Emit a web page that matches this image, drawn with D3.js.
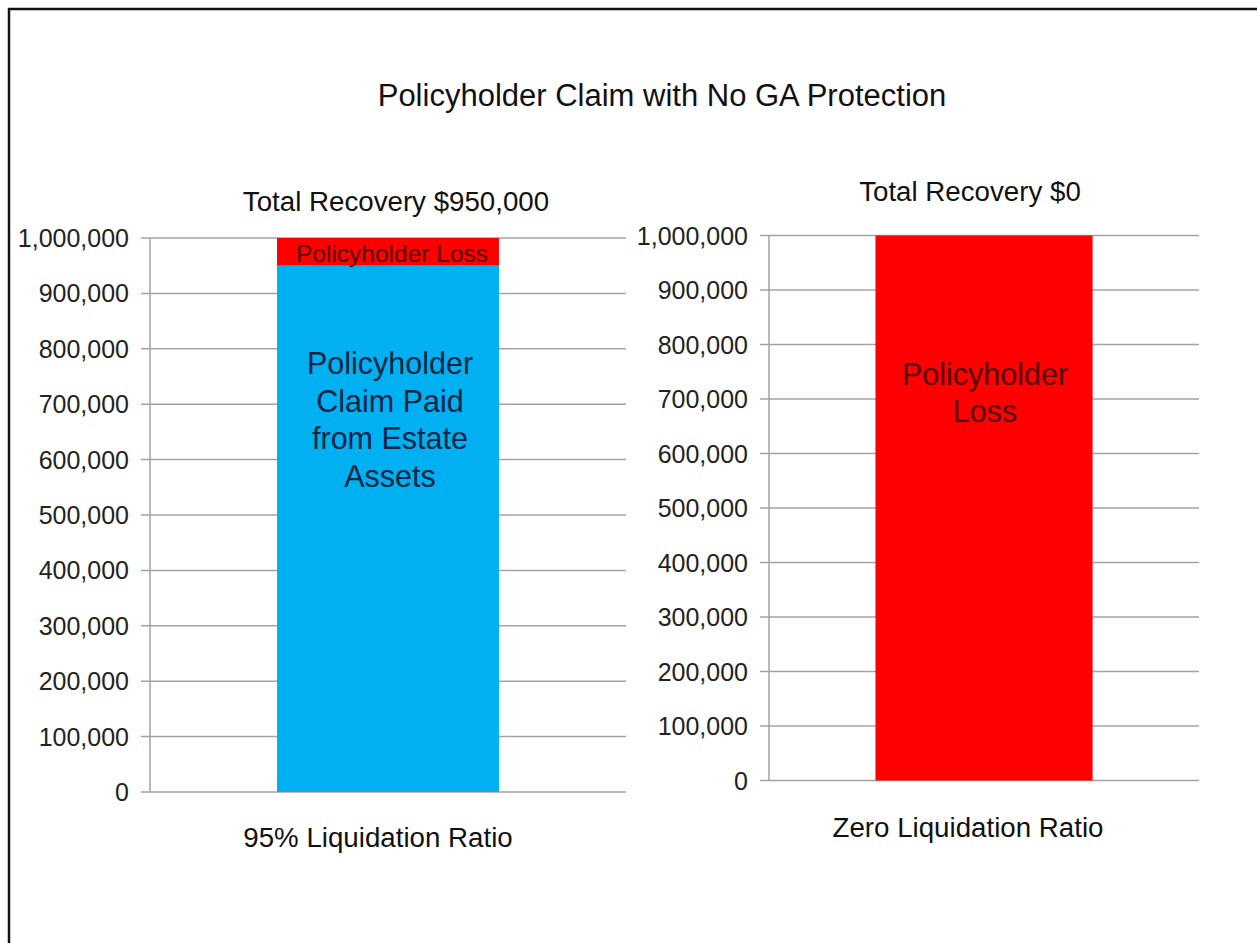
<!DOCTYPE html>
<html>
<head>
<meta charset="utf-8">
<script src="https://cdn.jsdelivr.net/npm/d3@7"></script>
<style>
  html, body { margin: 0; padding: 0; background: #fff; }
  svg { display: block; font-family: "Liberation Sans", Arial, sans-serif; }
</style>
</head>
<body>
<script>
// ---- data ----
const chartTitle = "Policyholder Claim with No GA Protection";
const categories = ["95% Liquidation Ratio", "Zero Liquidation Ratio"];
const recoveryTitles = ["Total Recovery $950,000", "Total Recovery $0"];
const claimPaid = [950000, 0];
const policyholderLoss = [50000, 1000000];
const claimPaidLabels = [["Policyholder", "Claim Paid", "from Estate", "Assets"], []];
const lossLabels = [["Policyholder Loss"], ["Policyholder", "Loss"]];
const yTicks = [0, 100000, 200000, 300000, 400000, 500000, 600000, 700000, 800000, 900000, 1000000];
const yMax = 1000000;

// ---- layout ----
const W = 1257, H = 943;
const panels = [
  { x0: 150, x1: 626, yTop: 238, yBot: 792, pad: 0.364,
    titleX: 396, titleY: 211, catX: 378, catY: 847,
    lossSmall: true, lossDx: 4, lossY0: 262, paidY0: 374, lineH: 37.5 },
  { x0: 769, x1: 1199, yTop: 235.5, yBot: 780.5, pad: 0.329,
    titleX: 970, titleY: 201, catX: 968, catY: 837,
    lossSmall: false, lossDx: 1, lossY0: 385, paidY0: 0, lineH: 37 }
];

const svg = d3.select("body").append("svg").attr("width", W).attr("height", H);
svg.append("rect").attr("width", W).attr("height", H).attr("fill", "#fff");

// outer frame (right/bottom edges beyond the picture)
svg.append("rect")
  .attr("x", 9).attr("y", 9).attr("width", W + 20).attr("height", H + 20)
  .attr("fill", "none").attr("stroke", "#111").attr("stroke-width", 2.5);

svg.append("text")
  .attr("x", 662).attr("y", 106)
  .attr("text-anchor", "middle")
  .attr("font-size", 31).attr("fill", "#111")
  .text(chartTitle);

panels.forEach((p, i) => {
  const g = svg.append("g");
  const x = d3.scaleBand().domain([categories[i]]).range([p.x0, p.x1])
    .paddingInner(p.pad).paddingOuter(p.pad);
  const y = d3.scaleLinear().domain([0, yMax]).range([p.yBot, p.yTop]);

  // gridlines
  g.selectAll("line.grid").data(yTicks).enter().append("line")
    .attr("x1", p.x0 - 9).attr("x2", p.x1)
    .attr("y1", d => y(d)).attr("y2", d => y(d))
    .attr("stroke", "#a3a3a3").attr("stroke-width", 1.5);

  // y axis line
  g.append("line")
    .attr("x1", p.x0).attr("x2", p.x0)
    .attr("y1", y(yMax)).attr("y2", y(0))
    .attr("stroke", "#a3a3a3").attr("stroke-width", 1.5);

  // y tick labels
  const fmt = d3.format(",");
  g.selectAll("text.tick").data(yTicks).enter().append("text")
    .attr("x", p.x0 - 21).attr("y", d => y(d))
    .attr("dy", "0.36em")
    .attr("text-anchor", "end")
    .attr("font-size", 25).attr("fill", "#222")
    .text(d => fmt(d));

  const cat = categories[i];
  const bx = x(cat), bw = x.bandwidth(), cx = bx + bw / 2;

  // stacked bars
  g.append("rect")
    .attr("x", bx).attr("width", bw)
    .attr("y", y(claimPaid[i])).attr("height", y(0) - y(claimPaid[i]))
    .attr("fill", "#00b0f0");
  g.append("rect")
    .attr("x", bx).attr("width", bw)
    .attr("y", y(claimPaid[i] + policyholderLoss[i]))
    .attr("height", y(claimPaid[i]) - y(claimPaid[i] + policyholderLoss[i]))
    .attr("fill", "#ff0000");

  // in-bar labels
  claimPaidLabels[i].forEach((t, k) => {
    g.append("text")
      .attr("x", cx + 2).attr("y", p.paidY0 + k * p.lineH)
      .attr("text-anchor", "middle")
      .attr("font-size", 30.5).attr("fill", "#0c2544")
      .text(t);
  });
  lossLabels[i].forEach((t, k) => {
    g.append("text")
      .attr("x", cx + p.lossDx).attr("y", p.lossY0 + k * p.lineH)
      .attr("text-anchor", "middle")
      .attr("font-size", p.lossSmall ? 24.5 : 30.5).attr("fill", "#520404")
      .text(t);
  });

  // panel title
  g.append("text")
    .attr("x", p.titleX).attr("y", p.titleY)
    .attr("text-anchor", "middle")
    .attr("font-size", 27.7).attr("fill", "#111")
    .text(recoveryTitles[i]);

  // category label
  g.append("text")
    .attr("x", p.catX).attr("y", p.catY)
    .attr("text-anchor", "middle")
    .attr("font-size", 27.7).attr("fill", "#111")
    .text(cat);
});
</script>
</body>
</html>
